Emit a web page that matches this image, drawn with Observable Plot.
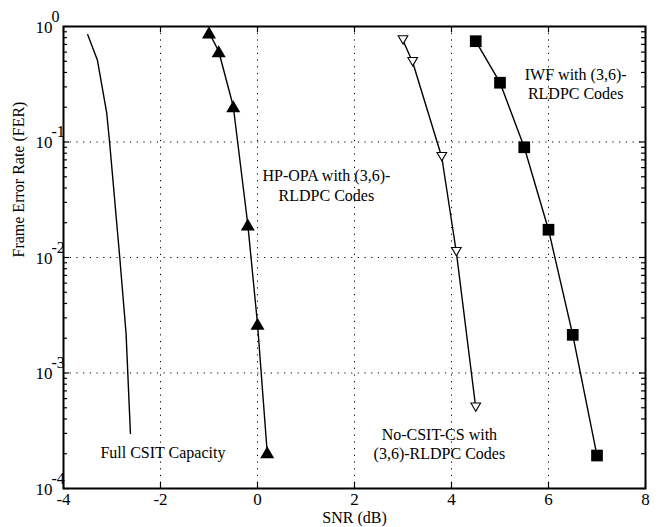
<!DOCTYPE html>
<html><head><meta charset="utf-8">
<script src="https://cdn.jsdelivr.net/npm/d3@7"></script>
<script src="https://cdn.jsdelivr.net/npm/@observablehq/plot@0.6"></script>
<style>body{margin:0;background:#fff}</style>
</head><body><div id="chart"></div>
<script>
// Full CSIT capacity curve
const capSNR = [-3.5, -3.3, -3.11, -3.05, -2.84, -2.71, -2.62];
const capFER = [0.85, 0.51, 0.18, 0.1, 0.01, 0.0022, 0.0003];
// HP-OPA with (3,6)-RLDPC codes
const hpSNR = [-1.0, -0.8, -0.5, -0.2, 0.0, 0.2];
const hpFER = [0.89, 0.61, 0.204, 0.0193, 0.00267, 0.000206];
// No-CSIT-CS with (3,6)-RLDPC codes
const noSNR = [3.0, 3.2, 3.8, 4.1, 4.5];
const noFER = [0.756, 0.49, 0.0738, 0.0111, 0.0005];
// IWF with (3,6)-RLDPC codes
const iwfSNR = [4.5, 5.0, 5.5, 6.0, 6.5, 7.0];
const iwfFER = [0.746, 0.326, 0.090, 0.0174, 0.00214, 0.000193];

const xTicks = [-4, -2, 0, 2, 4, 6, 8];
const xTickLabels = ["-4", "-2", "0", "2", "4", "6", "8"];
const xGrid = [-2, 0, 2, 4, 6];
const yTicks = [1, 0.1, 0.01, 0.001, 0.0001];
const yTickExponents = ["0", "-1", "-2", "-3", "-4"];
const yGrid = [0.1, 0.01, 0.001];

const labelTexts = ["IWF with (3,6)-\nRLDPC Codes", "HP-OPA with (3,6)-\nRLDPC Codes", "No-CSIT-CS with\n(3,6)-RLDPC Codes", "Full CSIT Capacity"];
const labelSNR = [6.56, 1.42, 3.75, -1.95];
const labelFER = [0.324, 0.0425, 0.000245, 0.000206];

const xTitle = "SNR (dB)";
const yTitle = "Frame Error Rate (FER)";

const zip = (xs, ys) => xs.map((x, i) => ({x, y: ys[i]}));
const cap = zip(capSNR, capFER);
const hp = zip(hpSNR, hpFER);
const no = zip(noSNR, noFER);
const iwf = zip(iwfSNR, iwfFER);
const labels = labelTexts.map((t, i) => ({t, x: labelSNR[i], y: labelFER[i]}));

const minorY = [];
for (const d of [1e-4, 1e-3, 1e-2, 1e-1]) for (let k = 2; k <= 9; k++) minorY.push(d * k);

const W = 662, H = 527, ML = 63, MR = 17, MT = 26, MB = 39;
const PW = W - ML - MR, PH = H - MT - MB;
const font = "Liberation Serif, Times New Roman, serif";
const tickStyle = {stroke: "black", strokeWidth: 1.2};

const chart = Plot.plot({
  width: W,
  height: H,
  marginLeft: ML,
  marginRight: MR,
  marginTop: MT,
  marginBottom: MB,
  style: {fontFamily: font, fontSize: "16px", background: "white", color: "black"},
  x: {domain: [-4, 8], axis: null},
  y: {type: "log", domain: [1e-4, 1], axis: null},
  marks: [
    Plot.gridX(xGrid, {stroke: "black", strokeOpacity: 1, strokeWidth: 1, strokeDasharray: "1.2,5.5"}),
    Plot.gridY(yGrid, {stroke: "black", strokeOpacity: 1, strokeWidth: 1, strokeDasharray: "1.2,5.5"}),
    // inward ticks
    Plot.tickX(xTicks, {x: d => d, insetTop: PH - 6, ...tickStyle}),
    Plot.tickX(xTicks, {x: d => d, insetBottom: PH - 6, ...tickStyle}),
    Plot.tickY(yTicks, {y: d => d, insetRight: PW - 6, ...tickStyle}),
    Plot.tickY(yTicks, {y: d => d, insetLeft: PW - 6, ...tickStyle}),
    Plot.tickY(minorY, {y: d => d, insetRight: PW - 4, ...tickStyle}),
    Plot.tickY(minorY, {y: d => d, insetLeft: PW - 4, ...tickStyle}),
    // tick labels
    Plot.axisX({anchor: "bottom", ticks: xTicks, tickSize: 0, tickPadding: 4, label: null, tickFormat: d => xTickLabels[xTicks.indexOf(d)], fontSize: 17}),
    Plot.axisY({anchor: "left", ticks: yTicks, tickSize: 0, tickPadding: 11, label: null, tickFormat: () => "10", dy: 1, fontSize: 17}),
    Plot.axisY({anchor: "left", ticks: yTicks, tickSize: 0, tickPadding: 12, label: null, textAnchor: "start", dy: -10, tickFormat: d => yTickExponents[yTicks.indexOf(d)], fontSize: 16}),
    // curves
    Plot.line(cap, {x: "x", y: "y", stroke: "black", strokeWidth: 1.4}),
    Plot.line(hp, {x: "x", y: "y", stroke: "black", strokeWidth: 1.4}),
    Plot.line(no, {x: "x", y: "y", stroke: "black", strokeWidth: 1.4}),
    Plot.line(iwf, {x: "x", y: "y", stroke: "black", strokeWidth: 1.4}),
    Plot.dot(hp, {x: "x", y: "y", symbol: "triangle", r: 5.2, fill: "black", stroke: "none", dy: 2}),
    Plot.dot(no, {x: "x", y: "y", symbol: "triangle2", r: 4.6, rotate: 180, fill: "white", stroke: "black", strokeWidth: 1.1, dy: -2}),
    Plot.dot(iwf, {x: "x", y: "y", symbol: "square", r: 6.6, fill: "black", stroke: "none"}),
    // annotations
    Plot.text(labels, {x: "x", y: "y", text: "t", fontSize: 16, lineHeight: 1.2, fill: "black", textAnchor: "middle"}),
    // axis titles
    Plot.text([xTitle], {frameAnchor: "bottom", dy: 34, text: d => d, fontSize: 16, fill: "black"}),
    Plot.text([yTitle], {frameAnchor: "left", dx: -45, rotate: -90, text: d => d, fontSize: 16, fill: "black"}),
    Plot.frame({stroke: "black", strokeWidth: 2})
  ]
});
document.getElementById("chart").appendChild(chart);
</script>
</body></html>
